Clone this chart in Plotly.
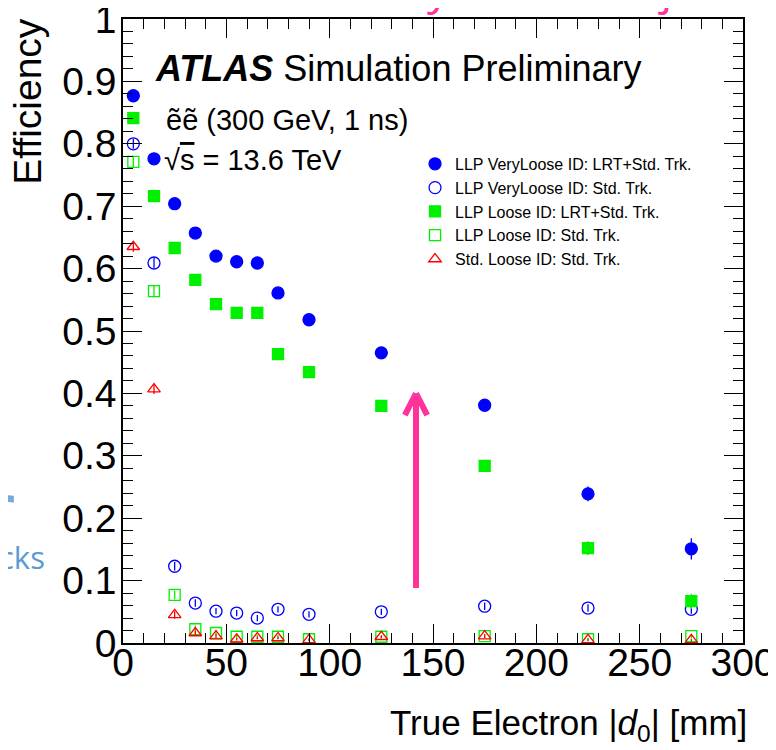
import plotly.graph_objects as go

# ---- data ----
d0_bins = [5, 15, 25, 35, 45, 55, 65, 75, 90, 125, 175, 225, 275]

vl_lrt = [0.877, 0.776, 0.704, 0.657, 0.620, 0.611, 0.609, 0.561, 0.518, 0.465, 0.381, 0.239, 0.151]
vl_lrt_err = [0.005, 0.005, 0.005, 0.005, 0.005, 0.005, 0.005, 0.006, 0.006, 0.007, 0.008, 0.012, 0.017]

vl_std = [0.800, 0.609, 0.123, 0.064, 0.051, 0.048, 0.040, 0.054, 0.046, 0.050, 0.059, 0.056, 0.054]
vl_std_err = [0.008, 0.008, 0.007, 0.006, 0.005, 0.005, 0.005, 0.005, 0.005, 0.005, 0.006, 0.006, 0.007]

lo_lrt = [0.841, 0.716, 0.633, 0.582, 0.543, 0.529, 0.529, 0.463, 0.434, 0.380, 0.284, 0.152, 0.067]
lo_lrt_err = [0.006, 0.006, 0.006, 0.006, 0.006, 0.006, 0.006, 0.007, 0.007, 0.007, 0.008, 0.011, 0.012]

lo_std = [0.771, 0.564, 0.077, 0.022, 0.016, 0.010, 0.010, 0.010, 0.006, 0.010, 0.011, 0.006, 0.011]
lo_std_err = [0.008, 0.008, 0.007, 0.006, 0.004, 0.003, 0.003, 0.003, 0.002, 0.003, 0.003, 0.002, 0.003]

std_lo = [0.635, 0.407, 0.045, 0.016, 0.011, 0.006, 0.008, 0.008, 0.005, 0.010, 0.011, 0.005, 0.005]
std_lo_err = [0.008, 0.008, 0.006, 0.004, 0.003, 0.002, 0.002, 0.002, 0.002, 0.002, 0.003, 0.002, 0.002]

series_names = [
    "LLP VeryLoose ID: LRT+Std. Trk.",
    "LLP VeryLoose ID: Std. Trk.",
    "LLP Loose ID: LRT+Std. Trk.",
    "LLP Loose ID: Std. Trk.",
    "Std. Loose ID: Std. Trk.",
]

x_ticks = [0, 50, 100, 150, 200, 250, 300]
y_ticks = [0, 0.1, 0.2, 0.3, 0.4, 0.5, 0.6, 0.7, 0.8, 0.9, 1]

BLUE = "#0000ff"
GREEN = "#00f000"
RED = "#ff0000"
PINK = "#ff3399"
SLIDE_BLUE = "#5b9bd5"
FONT = "Liberation Sans, Arial, Helvetica, sans-serif"

fig = go.Figure()

styles = [
    (vl_lrt, vl_lrt_err, "circle", BLUE, 12),
    (vl_std, vl_std_err, "circle-open", BLUE, 12),
    (lo_lrt, lo_lrt_err, "square", GREEN, 11),
    (lo_std, lo_std_err, "square-open", GREEN, 11),
    (std_lo, std_lo_err, "triangle-up-open", RED, 11),
]

for name, (vals, errs, sym, col, sz) in zip(series_names, styles):
    fig.add_trace(go.Scatter(
        x=d0_bins, y=vals, mode="markers", name=name,
        marker=dict(symbol=sym, color=col, size=sz, line=dict(color=col, width=1.3)),
        error_y=dict(type="data", array=errs, visible=True, color=col, thickness=1.3, width=0),
    ))

axis_common = dict(
    showgrid=False, zeroline=False, showline=True, linecolor="black", linewidth=1.5,
    ticks="inside", tickcolor="black", tickwidth=1.3, ticklen=19, mirror="allticks",
    tickfont=dict(family=FONT, size=39, color="black"),
    automargin=False, ticklabeloverflow="allow",
)

# the page body adds an 8 px offset, so the figure is 768x742 and margins compensate
fig.update_layout(
    template="none",
    width=768, height=742,
    margin=dict(l=115, r=33, t=11, b=107, pad=0),
    paper_bgcolor="white", plot_bgcolor="white",
    font=dict(family=FONT, color="black"),
    showlegend=True,
    legend=dict(
        x=0.471, y=0.795, xanchor="left", yanchor="top",
        bgcolor="rgba(0,0,0,0)", borderwidth=0,
        font=dict(family=FONT, size=16, color="black"),
        itemwidth=30, tracegroupgap=0,
    ),
    xaxis=dict(
        range=[0, 300], tickvals=x_ticks, ticktext=[str(v) for v in x_ticks],
        minor=dict(dtick=10, ticks="inside", ticklen=10, tickcolor="black", tickwidth=1.3, showgrid=False),
        ticklabelstandoff=-16,
        **axis_common,
    ),
    yaxis=dict(
        range=[0, 1], tickvals=y_ticks, ticktext=[("%g" % v) for v in y_ticks],
        minor=dict(dtick=0.02, ticks="inside", ticklen=10, tickcolor="black", tickwidth=1.3, showgrid=False),
        ticklabelstandoff=-3,
        **axis_common,
    ),
)

annotations = [
    # axis titles (ROOT style: right / top aligned)
    dict(text="True Electron |<i>d</i><sub>0</sub>| [mm]", xref="paper", yref="paper",
         x=1.01, y=-0.131, xanchor="right", yanchor="middle", showarrow=False,
         font=dict(family=FONT, size=35, color="black")),
    dict(text="Efficiency", xref="paper", yref="paper", textangle=-90,
         x=-0.192, y=1.005, xanchor="left", yanchor="top", showarrow=False,
         font=dict(family=FONT, size=39, color="black")),
    # ATLAS label
    dict(text="<b><i>ATLAS</i></b> Simulation Preliminary", xref="paper", yref="paper",
         x=0.048, y=0.921, xanchor="left", yanchor="middle", showarrow=False,
         font=dict(family=FONT, size=36, color="black")),
    dict(text="ẽẽ (300 GeV, 1 ns)", xref="paper", yref="paper",
         x=0.066, y=0.838, xanchor="left", yanchor="middle", showarrow=False,
         font=dict(family=FONT, size=29, color="black")),
    dict(text="√<span style='text-decoration:overline'>s</span> = 13.6 TeV", xref="paper", yref="paper",
         x=0.063, y=0.774, xanchor="left", yanchor="middle", showarrow=False,
         font=dict(family=FONT, size=29, color="black")),
    # slide overlay fragments
    dict(text="efficiency of LLP objects", xref="paper", yref="paper",
         x=0.2, y=1.0008, xanchor="left", yanchor="bottom", showarrow=False,
         font=dict(family="Open Sans, sans-serif", size=46, color=PINK)),
    dict(text="cks", xref="paper", yref="paper",
         x=-0.122, y=0.138, xanchor="right", yanchor="middle", showarrow=False,
         font=dict(family="Open Sans, sans-serif", size=31, color=SLIDE_BLUE)),
]
fig.update_layout(annotations=annotations)

# arrow (pink) and blue bar fragment, drawn in paper coordinates
ax_x = 0.4726
shapes = [
    dict(type="line", xref="paper", yref="paper", x0=ax_x, x1=ax_x, y0=0.088, y1=0.398,
         line=dict(color=PINK, width=6)),
    dict(type="line", xref="paper", yref="paper", x0=ax_x, x1=ax_x - 0.018, y0=0.400, y1=0.365,
         line=dict(color=PINK, width=6)),
    dict(type="line", xref="paper", yref="paper", x0=ax_x, x1=ax_x + 0.018, y0=0.400, y1=0.365,
         line=dict(color=PINK, width=6)),
    dict(type="path", xref="paper", yref="paper",
         path="M -0.2,0.238 L -0.176,0.236 L -0.176,0.225 L -0.2,0.227 Z",
         fillcolor=SLIDE_BLUE, line=dict(width=0), opacity=0.85),
]
fig.update_layout(shapes=shapes)

fig.write_html("out.html")
